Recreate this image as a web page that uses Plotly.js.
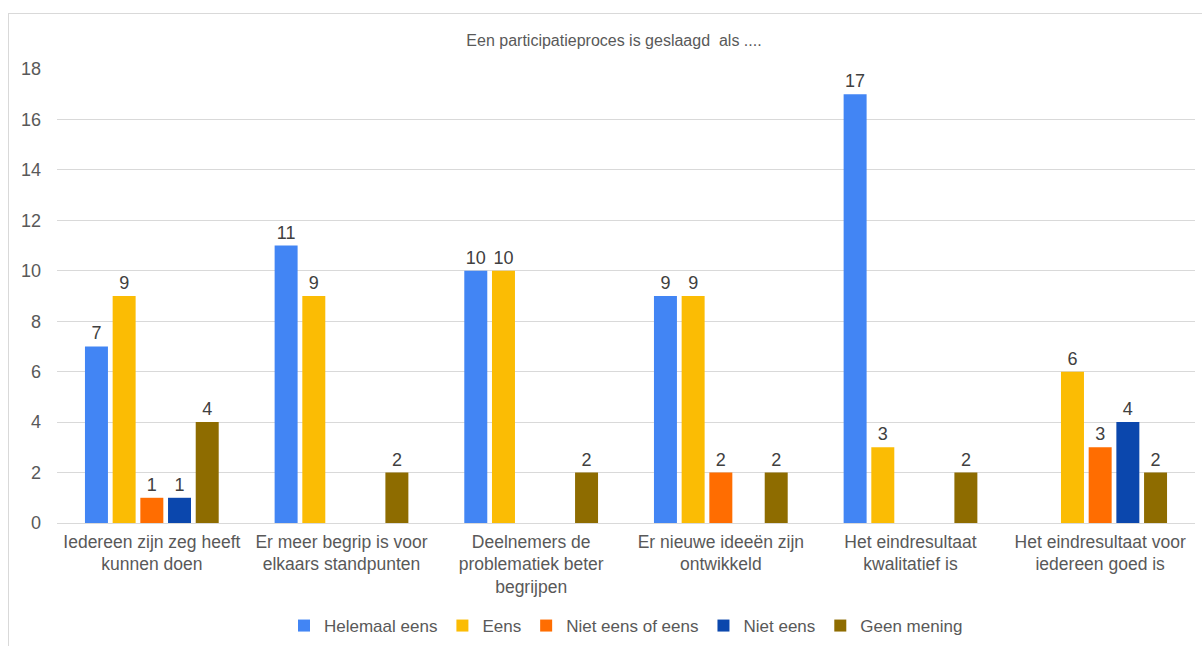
<!DOCTYPE html>
<html>
<head>
<meta charset="utf-8">
<script src="https://cdn.plot.ly/plotly-3.0.1.min.js"></script>
<style>
html,body{margin:0;padding:0;width:1202px;height:646px;overflow:hidden;background:#fff;}
#frame{position:absolute;left:8px;top:13px;width:1300px;height:700px;border:1px solid #d9d9d9;box-sizing:border-box;pointer-events:none;}
#chart{position:absolute;left:0;top:0;width:1202px;height:646px;}
</style>
</head>
<body>
<div id="frame"></div>
<div id="chart"></div>
<script>
const categories = [
  "Iedereen zijn zeg heeft<br>kunnen doen",
  "Er meer begrip is voor<br>elkaars standpunten",
  "Deelnemers de<br>problematiek beter<br>begrijpen",
  "Er nieuwe ideeën zijn<br>ontwikkeld",
  "Het eindresultaat<br>kwalitatief is",
  "Het eindresultaat voor<br>iedereen goed is"
];
const seriesNames = ["Helemaal eens", "Eens", "Niet eens of eens", "Niet eens", "Geen mening"];
const helemaalEens = [7, 11, 10, 9, 17, 0];
const eens = [9, 9, 10, 9, 3, 6];
const nietEensOfEens = [1, 0, 0, 2, 0, 3];
const nietEens = [1, 0, 0, 0, 0, 4];
const geenMening = [4, 2, 2, 2, 2, 2];
const yTicks = [0, 2, 4, 6, 8, 10, 12, 14, 16, 18];
const colors = ["#4285F4", "#FBBC04", "#FF6D01", "#0B47AD", "#8E6C00"];
const allSeries = [helemaalEens, eens, nietEensOfEens, nietEens, geenMening];

const font = "Liberation Sans, Arial, sans-serif";
const traces = allSeries.map((vals, i) => ({
  type: "bar",
  name: seriesNames[i],
  x: categories,
  y: vals,
  text: vals.map(v => v === 0 ? "" : String(v)),
  textposition: "outside",
  cliponaxis: false,
  textfont: {family: font, size: 18, color: "#404040"},
  marker: {color: colors[i]},
  hoverinfo: "x+y+name"
}));

const layout = {
  width: 1202, height: 646,
  paper_bgcolor: "rgba(0,0,0,0)",
  plot_bgcolor: "rgba(0,0,0,0)",
  margin: {l: 57, r: 7, t: 69, b: 123},
  font: {family: font, color: "#595959"},
  title: {text: "Een participatieproces is geslaagd  als ....", font: {family: font, size: 16, color: "#595959"},
          x: 614/1202, xanchor: "center", xref: "container", y: 1 - 40/646, yref: "container", yanchor: "middle"},
  barmode: "group",
  bargap: 0.27,
  bargroupgap: 0.17,
  showlegend: true,
  legend: {orientation: "h", x: 0.5, xanchor: "center", yref: "container", y: 1 - 626/646, yanchor: "middle",
           font: {family: font, size: 17, color: "#595959"}, itemwidth: 30},
  xaxis: {
    tickfont: {family: font, size: 17.5, color: "#595959"},
    showgrid: false, showline: false, ticks: "", zeroline: false, ticklabelstandoff: 6
  },
  yaxis: {
    range: [0, 18],
    tickvals: yTicks,
    ticktext: yTicks.map(String),
    tickfont: {family: font, size: 18, color: "#595959"},
    gridcolor: "#d9d9d9", gridwidth: 1,
    zeroline: true, zerolinecolor: "#d9d9d9", zerolinewidth: 1,
    showline: false, ticks: "", ticklabelstandoff: 15
  }
};
Plotly.newPlot("chart", traces, layout, {displayModeBar: false, responsive: false});
</script>
</body>
</html>
